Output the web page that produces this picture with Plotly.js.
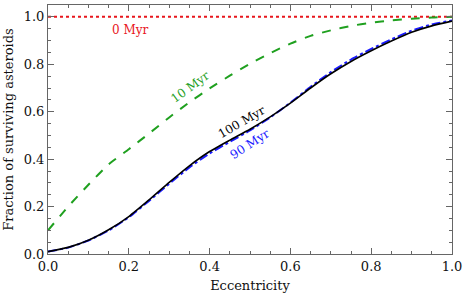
<!DOCTYPE html>
<html>
<head>
<meta charset="utf-8">
<script src="https://cdn.plot.ly/plotly-3.0.1.min.js"></script>
<style>html,body{margin:0;padding:0;background:#fff;}#chart{width:463px;height:299px;}</style>
</head>
<body>
<div id="chart"></div>
<script>
const ecc = [0, 0.05, 0.10, 0.15, 0.20, 0.25, 0.30, 0.35, 0.40, 0.45, 0.50, 0.55, 0.60, 0.65, 0.70, 0.75, 0.80, 0.85, 0.90, 0.95, 1.00];
const myr0x = [0, 1];
const myr0 = [1.0, 1.0];
const myr10 = [0.100, 0.200, 0.292, 0.378, 0.442, 0.508, 0.576, 0.640, 0.698, 0.752, 0.802, 0.847, 0.887, 0.920, 0.943, 0.962, 0.975, 0.985, 0.992, 0.997, 1.000];
const myr90 = [0.010, 0.027, 0.057, 0.099, 0.155, 0.224, 0.296, 0.365, 0.424, 0.473, 0.521, 0.576, 0.638, 0.705, 0.767, 0.820, 0.865, 0.905, 0.942, 0.968, 0.985];
const myr100 = [0.010, 0.028, 0.058, 0.102, 0.158, 0.228, 0.302, 0.372, 0.432, 0.480, 0.526, 0.578, 0.636, 0.700, 0.760, 0.812, 0.857, 0.898, 0.935, 0.962, 0.982];
const labels = ['0 Myr', '10 Myr', '90 Myr', '100 Myr'];

const FONT = 'DejaVu Serif, serif';
const traces = [
  {x: myr0x, y: myr0, mode: 'lines', line: {color: '#e8161c', width: 2, dash: 'dot'}},
  {x: ecc, y: myr10, mode: 'lines', line: {color: '#1fa01f', width: 2, dash: 'dash', shape: 'spline', smoothing: 0.5}},
  {x: ecc, y: myr90, mode: 'lines', line: {color: '#1a1aff', width: 2, dash: 'dashdot', shape: 'spline', smoothing: 0.5}},
  {x: ecc, y: myr100, mode: 'lines', line: {color: '#000000', width: 1.6, shape: 'spline', smoothing: 0.5}}
];

const axisCommon = {
  showgrid: false, zeroline: false, showline: true, linecolor: '#666', linewidth: 1,
  mirror: 'allticks', ticks: 'inside', ticklen: 6, tickcolor: '#666', tickwidth: 1,
  tickfont: {family: FONT, size: 13, color: '#111'},
  minor: {dtick: 0.05, ticks: 'inside', ticklen: 3, tickcolor: '#666', tickwidth: 1, showgrid: false}
};

const layout = {
  width: 463, height: 299,
  margin: {l: 48, r: 11, t: 5, b: 45},
  paper_bgcolor: '#fff', plot_bgcolor: '#fff',
  showlegend: false,
  font: {family: FONT, size: 13, color: '#111'},
  xaxis: Object.assign({}, axisCommon, {
    range: [0, 1], dtick: 0.2, tick0: 0, tickformat: '.1f',
    title: {text: 'Eccentricity', font: {family: FONT, size: 13, color: '#111'}, standoff: 8}
  }),
  yaxis: Object.assign({}, axisCommon, {
    range: [0, 1.05], dtick: 0.2, tick0: 0, tickformat: '.1f',
    title: {text: 'Fraction of surviving asteroids', font: {family: FONT, size: 13, color: '#111'}, standoff: 7}
  }),
  annotations: [
    {x: 0.205, y: 0.945, xref: 'x', yref: 'y', text: labels[0], showarrow: false, font: {family: FONT, size: 12, color: '#e8161c'}},
    {x: 0.352, y: 0.705, xref: 'x', yref: 'y', text: labels[1], showarrow: false, textangle: -36, font: {family: FONT, size: 12, color: '#1fa01f'}},
    {x: 0.50, y: 0.462, xref: 'x', yref: 'y', text: labels[2], showarrow: false, textangle: -33, font: {family: FONT, size: 12, color: '#1a1aff'}},
    {x: 0.48, y: 0.555, xref: 'x', yref: 'y', text: labels[3], showarrow: false, textangle: -30, font: {family: FONT, size: 12, color: '#000'}}
  ]
};

Plotly.newPlot('chart', traces, layout, {staticPlot: true, displayModeBar: false});
</script>
</body>
</html>
